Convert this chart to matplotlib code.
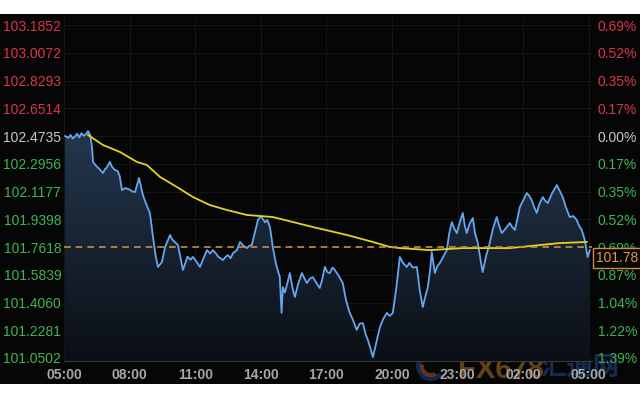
import numpy as np
import matplotlib
matplotlib.use("Agg")
import matplotlib.pyplot as plt
from matplotlib.patches import Polygon, Rectangle, Wedge
from matplotlib.colors import LinearSegmentedColormap

# price axis ticks (left) and change labels (right)
price_ticks = [103.1852, 103.0072, 102.8293, 102.6514, 102.4735, 102.2956, 102.1177,
               101.9398, 101.7618, 101.5839, 101.4060, 101.2281, 101.0502]
pct_labels = ["0.69%", "0.52%", "0.35%", "0.17%", "0.00%", "0.17%", "0.35%",
              "0.52%", "0.69%", "0.87%", "1.04%", "1.22%", "1.39%"]
time_ticks = [0, 3, 6, 9, 12, 15, 18, 21, 24]
time_labels = ["05:00", "08:00", "11:00", "14:00", "17:00", "20:00", "23:00", "02:00", "05:00"]
ref_close = 101.7618
last_price = "101.78"

# hours since 05:00 -> price
price_t = [0.05, 0.2, 0.3, 0.4, 0.5, 0.6, 0.7, 0.8, 0.9, 1.0, 1.1, 1.2, 1.28, 1.33, 1.42, 1.5,
           1.62, 1.78, 1.88, 1.95, 2.1, 2.2, 2.33, 2.45, 2.55, 2.65, 2.8, 3.0, 3.12, 3.25, 3.43,
           3.52, 3.61, 3.75, 3.93, 4.07, 4.2, 4.3, 4.48, 4.62, 4.85, 4.95, 5.07, 5.21, 5.32,
           5.44, 5.55, 5.65, 5.78, 5.9, 6.05, 6.22, 6.38, 6.54, 6.68, 6.81, 6.95, 7.05, 7.15,
           7.27, 7.4, 7.5, 7.62, 7.73, 7.9, 8.05, 8.2, 8.37, 8.48, 8.59, 8.72, 8.87, 9.0, 9.2,
           9.3, 9.42, 9.55, 9.7, 9.87, 9.95, 10.01, 10.1, 10.2, 10.33, 10.45, 10.56, 10.7, 10.88,
           11.0, 11.11, 11.25, 11.38, 11.55, 11.7, 11.82, 11.93, 12.05, 12.16, 12.28, 12.39,
           12.55, 12.75, 12.9, 13.07, 13.2, 13.39, 13.52, 13.67, 13.8, 13.9, 14.02, 14.13,
           14.3, 14.45, 14.6, 14.77, 14.9, 15.04, 15.2, 15.36, 15.5, 15.68, 15.8, 15.95, 16.14,
           16.27, 16.41, 16.52, 16.64, 16.75, 16.82, 16.96, 17.08, 17.19, 17.35, 17.51, 17.62,
           17.74, 17.85, 17.97, 18.1, 18.24, 18.33, 18.42, 18.55, 18.7, 18.8, 18.93, 19.05,
           19.15, 19.3, 19.47, 19.62, 19.79, 19.9, 20.02, 20.2, 20.39, 20.5, 20.62, 20.75,
           20.85, 21.0, 21.17, 21.28, 21.39, 21.5, 21.62, 21.75, 21.9, 22.0, 22.13, 22.3,
           22.42, 22.54, 22.68, 22.81, 22.95, 23.13, 23.3, 23.45, 23.55, 23.68, 23.82, 23.95,
           24.05]
price_v = [102.473, 102.462, 102.480, 102.458, 102.470, 102.488, 102.465, 102.492, 102.475,
           102.486, 102.505, 102.480, 102.403, 102.307, 102.290, 102.278, 102.262, 102.236,
           102.262, 102.270, 102.307, 102.275, 102.256, 102.250, 102.215, 102.127, 102.140,
           102.130, 102.118, 102.114, 102.204, 102.150, 102.095, 102.040, 101.980, 101.826,
           101.700, 101.634, 101.666, 101.760, 101.839, 101.810, 101.794, 101.775, 101.700,
           101.614, 101.660, 101.700, 101.680, 101.698, 101.670, 101.634, 101.690, 101.742,
           101.720, 101.742, 101.720, 101.700, 101.690, 101.678, 101.700, 101.710, 101.690,
           101.723, 101.740, 101.794, 101.770, 101.755, 101.770, 101.775, 101.850, 101.935,
           101.960, 101.920, 101.935, 101.890, 101.762, 101.650, 101.569, 101.340, 101.505,
           101.470, 101.520, 101.595, 101.500, 101.441, 101.520, 101.595, 101.560, 101.531,
           101.560, 101.569, 101.530, 101.499, 101.560, 101.634, 101.600, 101.595, 101.630,
           101.614, 101.580, 101.531, 101.420, 101.339, 101.300, 101.230, 101.270, 101.274,
           101.200, 101.165, 101.110, 101.056, 101.160, 101.249, 101.300, 101.339, 101.320,
           101.339, 101.500, 101.698, 101.660, 101.634, 101.660, 101.630, 101.634, 101.486,
           101.377, 101.440, 101.505, 101.620, 101.730, 101.595, 101.640, 101.659, 101.700,
           101.742, 101.850, 101.922, 101.880, 101.851, 101.920, 101.980, 101.900, 101.851,
           101.910, 101.948, 101.850, 101.787, 101.680, 101.601, 101.700, 101.787, 101.880,
           101.954, 101.900, 101.851, 101.880, 101.916, 101.890, 101.871, 101.950, 102.018,
           102.060, 102.108, 102.090, 102.063, 102.020, 101.980, 102.040, 102.082, 102.060,
           102.044, 102.100, 102.130, 102.159, 102.120, 102.082, 102.020, 101.954, 101.960,
           101.935, 101.900, 101.871, 101.807, 101.698, 101.742]

# moving average line (yellow)
avg_t = [1.10, 1.78, 2.56, 3.34, 3.79, 4.39, 5.17, 5.90, 6.67, 7.45, 8.37, 9.55, 10.47,
         11.38, 12.94, 14.13, 14.90, 15.36, 16.73, 18.24, 20.39, 22.67, 23.91]
avg_v = [102.480, 102.416, 102.371, 102.307, 102.288, 102.211, 102.146, 102.082, 102.031,
         101.999, 101.967, 101.954, 101.922, 101.890, 101.839, 101.794, 101.762, 101.755,
         101.742, 101.755, 101.755, 101.787, 101.794]

W, H = 640, 400
fig = plt.figure(figsize=(6.4, 4.0), dpi=100, facecolor="white")
fig.patches.append(Rectangle((0, 1 - 384 / H), 1, 370 / H, transform=fig.transFigure,
                             facecolor="#060606", edgecolor="none", zorder=-3))

# watermark (logo + site name)
logo_c = (431 / 100, (H - 366) / 100)
fig.patches.append(Wedge(logo_c, 0.15, 40, 320, width=0.05,
                         transform=fig.dpi_scale_trans, facecolor="#1b3f78", alpha=0.6, zorder=-2))
fig.patches.append(Wedge(logo_c, 0.11, 170, 300, width=0.04,
                         transform=fig.dpi_scale_trans, facecolor="#a04a20", alpha=0.6, zorder=-2))
fig.text(458 / W, 1 - 370 / H, "FX678", color="#7a5220", fontsize=21, fontweight="bold",
         family="Liberation Sans", va="center", ha="left", alpha=0.8, zorder=-1)
fig.text(540 / W, 1 - 368 / H, "汇通网", color="#1a3566", fontsize=19, fontweight="bold",
         family=["Noto Sans CJK SC", "DejaVu Sans"], va="center", ha="left", alpha=0.8, zorder=-1)

ax = fig.add_axes([64 / W, 1 - 361 / H, (592 - 64) / W, (361 - 18) / H])
ax.patch.set_visible(False)

ppu = 27.75 / (price_ticks[0] - price_ticks[1])
ylo = price_ticks[-1] - 3 / ppu
yhi = price_ticks[0] + 7 / ppu

# gradient fill under price
poly = Polygon(np.vstack([[price_t[0], ylo], np.column_stack([price_t, price_v]),
                          [price_t[-1], ylo]]), closed=True, facecolor="none", edgecolor="none")
ax.add_patch(poly)
cmap = LinearSegmentedColormap.from_list("fill", ["#0b0f15", "#24374f"])
grad = np.linspace(0, 1, 256).reshape(-1, 1)
im = ax.imshow(grad, extent=[0, 24.15, ylo, max(price_v)], aspect="auto", cmap=cmap,
               origin="lower", zorder=1)
im.set_clip_path(poly)
ax.set_xlim(0, 24.15)
ax.set_ylim(ylo, yhi)

ax.plot(price_t, price_v, color="#66a6f0", lw=1.3, zorder=3)
ax.plot(avg_t, avg_v, color="#e2d41e", lw=1.3, zorder=4)
ax.axhline(ref_close, color="#cf8a3e", lw=1.2, ls=(0, (4, 3)), zorder=5)

for y in price_ticks:
    ax.axhline(y, color="#151515", lw=0.8, zorder=0)
for x in time_ticks:
    ax.axvline(x, color="#151515", lw=0.8, zorder=0)

for s in ["top", "right", "left"]:
    ax.spines[s].set_visible(False)
ax.spines["bottom"].set_color("#3a3a3a")

ax.set_yticks(price_ticks)
ax.set_yticklabels([f"{v:.4f}" for v in price_ticks], family="Liberation Sans", fontsize=10)
ax.tick_params(axis="y", length=0, pad=2)
colors = ["#d8364a"] * 4 + ["#c8c8c8"] + ["#3fb450"] * 8
for lab, c in zip(ax.get_yticklabels(), colors):
    lab.set_color(c)

ax2 = ax.twinx()
ax2.set_ylim(ylo, yhi)
ax2.set_yticks(price_ticks)
ax2.set_yticklabels(pct_labels, family="Liberation Sans", fontsize=10)
ax2.tick_params(axis="y", length=0, pad=4)
for lab, c in zip(ax2.get_yticklabels(), colors):
    lab.set_color(c)
for s in ax2.spines.values():
    s.set_visible(False)

ax.set_xticks(time_ticks)
ax.set_xticklabels(time_labels, family="Liberation Sans", fontsize=10, fontweight="bold",
                   color="#a8a8a8")
ax.tick_params(axis="x", length=0, pad=5)

fig.text(596 / W, 1 - 258 / H, last_price, color="#e8955a", fontsize=10,
         family="Liberation Sans", va="center", ha="left", zorder=5,
         bbox=dict(boxstyle="square,pad=0.2", facecolor="#060606", edgecolor="#d08a40", lw=1))

fig.savefig("out.png", dpi=100, facecolor="white")
